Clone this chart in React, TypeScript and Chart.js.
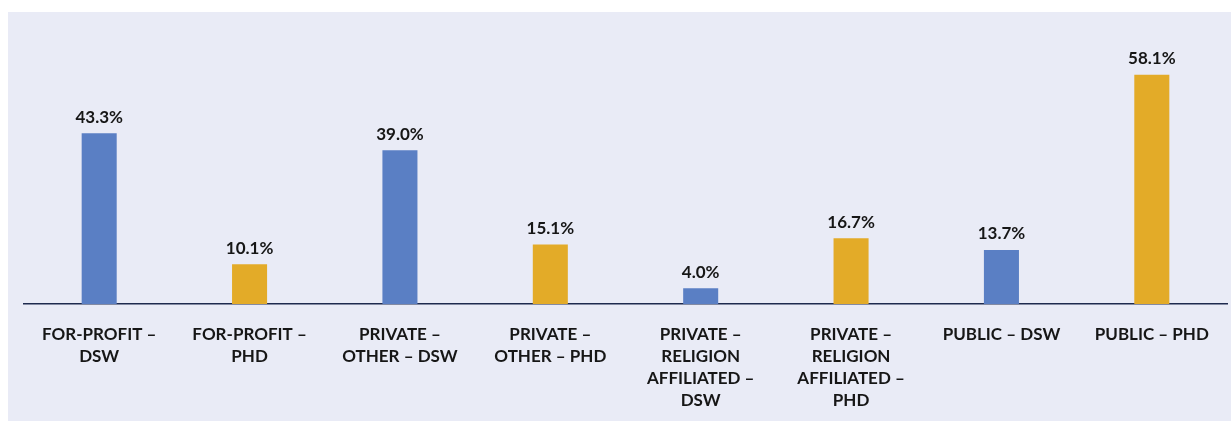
import React, { useEffect, useRef } from "react";
import { Chart, registerables } from "chart.js";

Chart.register(...registerables);

const categories: string[][] = [
  ["FOR-PROFIT –", "DSW"],
  ["FOR-PROFIT –", "PHD"],
  ["PRIVATE –", "OTHER – DSW"],
  ["PRIVATE –", "OTHER – PHD"],
  ["PRIVATE –", "RELIGION", "AFFILIATED –", "DSW"],
  ["PRIVATE –", "RELIGION", "AFFILIATED –", "PHD"],
  ["PUBLIC – DSW"],
  ["PUBLIC – PHD"],
];
const values: number[] = [43.3, 10.1, 39.0, 15.1, 4.0, 16.7, 13.7, 58.1];
const barColors: string[] = [
  "#5A7FC4", "#E3AB28", "#5A7FC4", "#E3AB28",
  "#5A7FC4", "#E3AB28", "#5A7FC4", "#E3AB28",
];

const FONT = "Lato, 'Noto Sans', sans-serif";
const TEXT = "#161616";

const dataLabels = {
  id: "dataLabels",
  afterDatasetsDraw(chart: any) {
    const ctx = chart.ctx;
    const meta = chart.getDatasetMeta(0);
    ctx.save();
    ctx.font = `bold 17px ${FONT}`;
    ctx.fillStyle = TEXT;
    ctx.textAlign = "center";
    ctx.textBaseline = "middle";
    meta.data.forEach((el: any, i: number) => {
      const v = chart.data.datasets[0].data[i] as number;
      ctx.fillText(v.toFixed(1) + "%", el.x, el.y - 16);
    });
    ctx.restore();
  },
};

export default function App() {
  const ref = useRef<HTMLCanvasElement>(null);
  useEffect(() => {
    if (!ref.current) return;
    const chart = new Chart(ref.current, {
      type: "bar",
      data: {
        labels: categories,
        datasets: [
          {
            data: values,
            backgroundColor: barColors,
            borderWidth: 0,
            categoryPercentage: 1,
            barPercentage: 0.233,
          },
        ],
      },
      options: {
        responsive: false,
        animation: false,
        layout: { padding: { left: 16, right: 4, top: 8, bottom: 0 } },
        plugins: {
          legend: { display: false },
          tooltip: { enabled: false },
        },
        scales: {
          x: {
            grid: { display: false, drawTicks: false },
            border: { display: true, color: "#1E2A4E", width: 1.6 },
            ticks: {
              autoSkip: false,
              maxRotation: 0,
              minRotation: 0,
              padding: 19,
              color: TEXT,
              font: { family: FONT, size: 17, weight: "bold", lineHeight: 1.3 },
            },
            afterFit(scale: any) {
              scale.height = 117;
            },
          },
          y: {
            display: false,
            min: 0,
            max: 72,
            grid: { display: false },
          },
        },
      },
      plugins: [dataLabels],
    });
    return () => chart.destroy();
  }, []);
  return (
    <div
      style={{
        position: "fixed",
        left: 8,
        top: 12,
        width: 1223,
        height: 409,
        background: "#E9EBF6",
      }}
    >
      <canvas ref={ref} width={1223} height={409} style={{ display: "block" }} />
    </div>
  );
}
